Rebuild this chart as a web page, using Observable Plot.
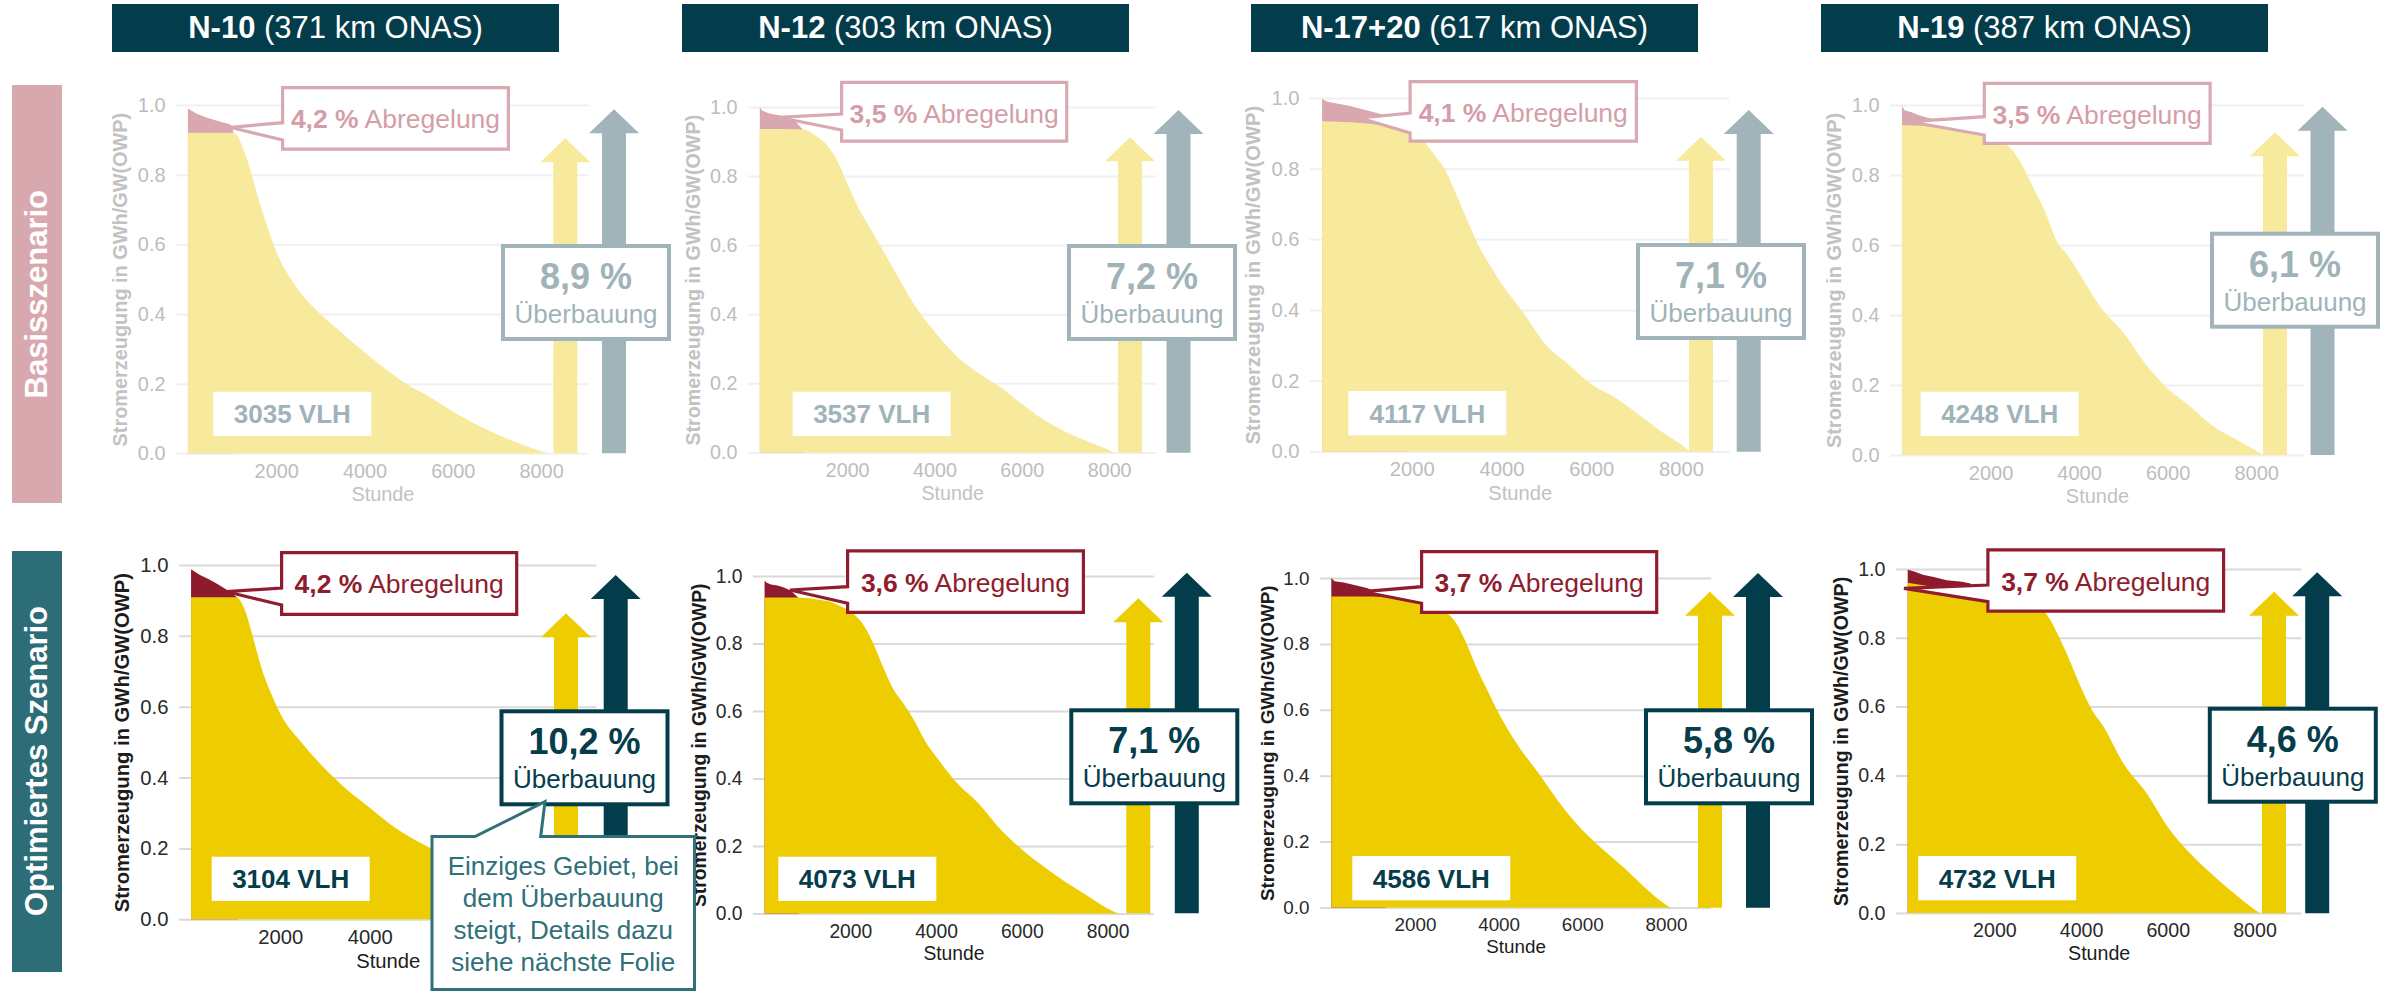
<!DOCTYPE html>
<html><head><meta charset="utf-8">
<script src="https://cdn.jsdelivr.net/npm/d3@7"></script>
<script src="https://cdn.jsdelivr.net/npm/@observablehq/plot@0.6"></script>
<style>
body{margin:0;background:#fff;}
#root{position:relative;width:2387px;height:991px;overflow:hidden;background:#fff;font-family:"Liberation Sans",Arial,sans-serif;}
.hdr{position:absolute;background:#033d4b;color:#fff;text-align:center;font-size:31px;}
.row{position:absolute;color:#fff;font-weight:bold;font-size:31px;display:flex;align-items:center;justify-content:center;}
.row span{writing-mode:vertical-rl;transform:rotate(180deg);white-space:nowrap;}
</style></head><body><div id="root"></div>
<script>
// ---------- texts ----------
const regions = ["N-10", "N-12", "N-17+20", "N-19"];
const onasKm = [371, 303, 617, 387];
const rowLabels = ["Basisszenario", "Optimiertes Szenario"];
const xTitle = "Stunde";
const yTitle = "Stromerzeugung in GWh/GW(OWP)";
const xTicks = [2000, 4000, 6000, 8000];
const yTicks = [0, 0.2, 0.4, 0.6, 0.8, 1.0];
const vlhBasis = [3035, 3537, 4117, 4248];
const vlhOpt = [3104, 4073, 4586, 4732];
const abregBasis = ["4,2", "3,5", "4,1", "3,5"];
const abregOpt = ["4,2", "3,6", "3,7", "3,7"];
const ueberBasis = ["8,9", "7,2", "7,1", "6,1"];
const ueberOpt = ["10,2", "7,1", "5,8", "4,6"];
const noteLines = ["Einziges Gebiet, bei", "dem Überbauung", "steigt, Details dazu", "siehe nächste Folie"];

// ---------- duration curves (hour rank -> GWh/GW) ----------
// Basisszenario
const hN10B = [0,1000,1100,1200,1400,1600,1800,2000,2500,3000,3500,4000,4500,5000,5500,6000,6500,7000,7500,8000,8150];
const gN10B = [0.92,0.92,0.915,0.89,0.82,0.73,0.65,0.58,0.47,0.40,0.345,0.29,0.24,0.195,0.16,0.12,0.085,0.055,0.028,0.006,0];
const rhN10B = [0,200,400,600,800,950,1000,1040];
const rN10B = [0.99,0.975,0.965,0.957,0.95,0.945,0.94,0.915];

const hN12B = [0,1000,1250,1500,1750,2000,2250,2500,2750,3000,3250,3500,3750,4000,4500,5000,5500,6000,6500,7000,7500,8000,8100];
const gN12B = [0.936,0.935,0.92,0.895,0.85,0.78,0.71,0.655,0.60,0.545,0.49,0.435,0.39,0.35,0.28,0.23,0.19,0.14,0.095,0.06,0.032,0.006,0];
const rhN12B = [0,50,200,400,600,800,1000];
const rN12B = [1.0,0.99,0.982,0.977,0.972,0.96,0.933];

const hN17B = [0,500,1000,1500,2000,2250,2500,2750,3000,3250,3500,3750,4000,4500,5000,5500,6000,6500,7000,7500,8000,8200];
const gN17B = [0.934,0.932,0.928,0.92,0.905,0.88,0.84,0.795,0.725,0.65,0.58,0.525,0.475,0.39,0.30,0.245,0.19,0.155,0.11,0.062,0.02,0];
const rhN17B = [0,100,300,600,900,1200,1500,1750,1900];
const rN17B = [0.998,0.99,0.985,0.978,0.968,0.958,0.948,0.925,0.905];

const hN19B = [0,500,1000,1500,2000,2250,2500,2750,3000,3250,3500,3750,4000,4500,5000,5500,6000,6500,7000,7500,8000,8150];
const gN19B = [0.943,0.94,0.933,0.923,0.91,0.895,0.87,0.82,0.755,0.69,0.61,0.57,0.52,0.42,0.35,0.26,0.19,0.14,0.085,0.048,0.012,0];
const rhN19B = [0,60,200,400,600,900,1100];
const rN19B = [0.997,0.985,0.98,0.97,0.963,0.955,0.93];

// Optimiertes Szenario
const hN10O = [0,1000,1100,1200,1400,1600,1800,2000,2500,3000,3500,4000,4500,5000,5500,6000,6500,7000,7500,8000,8150];
const gN10O = [0.909,0.909,0.9,0.875,0.79,0.70,0.635,0.58,0.495,0.425,0.365,0.315,0.265,0.225,0.19,0.14,0.10,0.065,0.035,0.008,0];
const rhN10O = [0,200,400,600,800,1000,1050];
const rN10O = [0.988,0.972,0.96,0.946,0.93,0.912,0.905];

const hN12O = [0,500,1000,1250,1500,1750,2000,2250,2500,2750,3000,3250,3500,3750,4000,4500,5000,5500,6000,6500,7000,7500,8000,8250];
const gN12O = [0.936,0.936,0.935,0.93,0.925,0.912,0.895,0.865,0.81,0.735,0.665,0.62,0.57,0.51,0.465,0.385,0.325,0.25,0.19,0.14,0.095,0.055,0.015,0];
const rhN12O = [0,50,150,300,450,600,800];
const rN12O = [0.987,0.98,0.975,0.972,0.966,0.958,0.934];

const hN17O = [0,1000,1500,2000,2500,2750,3000,3250,3500,3750,4000,4500,5000,5500,6000,6500,7000,7500,8000,8100];
const gN17O = [0.944,0.944,0.937,0.926,0.908,0.895,0.86,0.795,0.72,0.655,0.59,0.485,0.40,0.31,0.235,0.175,0.12,0.06,0.008,0];
const rhN17O = [0,80,300,550,850,1150,1300];
const rN17O = [1.0,0.99,0.986,0.979,0.97,0.955,0.94];

const hN19O = [0,500,1000,1500,2000,2500,3000,3250,3500,3750,4000,4250,4500,5000,5500,6000,6500,7000,7500,8000,8120];
const gN19O = [0.96,0.95,0.94,0.93,0.92,0.905,0.89,0.86,0.80,0.73,0.655,0.59,0.545,0.43,0.35,0.25,0.175,0.115,0.06,0.01,0];
const rhN19O = [0,150,350,600,900,1250,1450,1550];
const rN19O = [0.998,0.993,0.983,0.977,0.967,0.963,0.958,0.928];

const curves = [
  [hN10B, gN10B, rhN10B, rN10B], [hN12B, gN12B, rhN12B, rN12B], [hN17B, gN17B, rhN17B, rN17B], [hN19B, gN19B, rhN19B, rN19B],
  [hN10O, gN10O, rhN10O, rN10O], [hN12O, gN12O, rhN12O, rN12O], [hN17O, gN17O, rhN17O, rN17O], [hN19O, gN19O, rhN19O, rN19O]
];

// ---------- layout (page pixels) ----------
const xDomain = [-270, 9080];
// hour-0 x, px per 1000 h, y of 0, y of 1
const panelLayout = [
  [187.7, 44.15, 453.3, 105], [759.9, 43.67, 452.7, 107.3], [1321.7, 44.85, 451.7, 98.3], [1901.5, 44.28, 455, 105],
  [190.7, 44.65, 919.3, 565], [765, 42.88, 913.3, 575.7], [1331.3, 41.83, 907.7, 578.3], [1908.2, 43.35, 913.3, 569.3]
];
const noteBox = [432, 836.5, 694.5, 989.5]; // left, top, right, bottom of the note callout
const headerLeft = [112, 682, 1251, 1821];
const arrowYellowPos = [[565.3,138.3],[1130,137.3],[1701,136.7],[2275,132.3],[566,613.3],[1138.3,598.3],[1710,591.7],[2274,591.7]];
const arrowDarkPos = [[614,109.3],[1178.5,110],[1748.7,110],[2322.5,106.7],[615.7,575],[1186.8,572.7],[1758,573],[2317.2,572.3]];
const abregPos = [
  [281,86,510,150.7,230,127.3,122.7,140], [840,80.7,1068.3,142.7,778.3,117.3,114,130],
  [1408.5,80,1638,142.7,1360,118,113,133], [1982.7,81.7,2211.7,145,1910,121.7,116.7,135],
  [280,551,518.3,616,226.7,591.7,588,605], [846,549.3,1085,614,790,590,586.7,603.3],
  [1420,550,1658.3,614,1363,591.7,586.7,603.3], [1986.3,548.3,2225.2,612.7,1904,588.3,585,601.7]
];
const vlhPos = [[213.3,391.7],[792.7,391.7],[1348.4,391],[1920.7,391.7],[211.7,856.7],[778.3,856.7],[1352.3,856],[1918.2,856]];
const ueberPos = [[501,244],[1067,244],[1636,243],[2210,231.7],[499.5,709.3],[1069.3,708.3],[1644,708.3],[2207.8,706.7]];

// ---------- colours ----------
const theme = {
  basis: {yellow:"#f8ea9c", red:"#d8a7af", grid:"#f0f0f0", tick:"#bdbdbd", title:"#c2c2c2", arrow:"#a1b4ba",
          boxText:"#9fb3b9", abBorder:"#d9a9b1", abText:"#d49ea8"},
  opt:   {yellow:"#edcd00", red:"#8e1b2d", grid:"#dadada", tick:"#2a2a2a", title:"#1c1c1c", arrow:"#033d4b",
          boxText:"#053d4b", abBorder:"#8f1d2e", abText:"#8f1d2e"}
};
const FONT = '"Liberation Sans", Arial, sans-serif';

const root = document.getElementById("root");

// headers
regions.forEach((r, i) => {
  const d = document.createElement("div");
  d.className = "hdr";
  Object.assign(d.style, {left: headerLeft[i] + "px", top: "4px", width: "447px", height: "48px", lineHeight: "48px"});
  d.innerHTML = `<b>${r}</b> (${onasKm[i]} km ONAS)`;
  root.appendChild(d);
});
// row labels
[[85, 418, "#d8a8af"], [551, 421, "#2d6d77"]].forEach(([top, h, bg], i) => {
  const d = document.createElement("div");
  d.className = "row";
  Object.assign(d.style, {left: "12px", top: top + "px", width: "50px", height: h + "px", background: bg});
  d.innerHTML = `<span>${rowLabels[i]}</span>`;
  root.appendChild(d);
});

// panels
curves.forEach(([hs, gs, rhs, rs], i) => {
  const [px0, kx, py0, py1] = panelLayout[i];
  const t = i < 4 ? theme.basis : theme.opt;
  const span = py0 - py1;
  const fw = (xDomain[1] - xDomain[0]) * kx / 1000;
  const frameLeft = px0 + xDomain[0] * kx / 1000;
  const mL = 100, mR = 5, mT = 10, mB = 60;
  const fs = 20 * span / 350;
  const gen = hs.map((h, j) => ({h, v: gs[j]}));
  const red = rhs.map((h, j) => ({h, v: rs[j]}));
  // tick labels that sit under the note callout are hidden there in the original
  const belowNote = py0 > noteBox[1] - 20;
  const ticksShown = xTicks.filter(h => {
    const px = px0 + h * kx / 1000;
    return !(belowNote && px + 30 > noteBox[0] && px - 30 < noteBox[2]);
  });
  const chart = Plot.plot({
    width: mL + fw + mR, height: mT + span + mB,
    marginLeft: mL, marginRight: mR, marginTop: mT, marginBottom: mB,
    x: {domain: xDomain}, y: {domain: [0, 1]},
    style: {fontFamily: FONT, fontSize: fs + "px", color: t.tick, background: "transparent", overflow: "visible", maxWidth: "none"},
    marks: [
      Plot.gridY(yTicks, {stroke: t.grid, strokeWidth: 2, strokeOpacity: 1}),
      Plot.areaY(red, {x: "h", y: "v", fill: t.red}),
      Plot.areaY(gen, {x: "h", y: "v", fill: t.yellow, curve: "monotone-x"}),
      Plot.axisX(ticksShown, {tickSize: 0, tickPadding: 10, tickFormat: d => String(d), label: null, fontSize: fs}),
      Plot.axisY(yTicks, {tickSize: 0, tickPadding: 11, tickFormat: d3.format(".1f"), label: null, fontSize: fs}),
      Plot.text([xTitle], {text: d => d, frameAnchor: "bottom", lineAnchor: "middle", dy: 0.1175 * span, fontSize: fs, fill: t.title}),
      Plot.text([yTitle], {text: d => d, frameAnchor: "left", textAnchor: "middle", lineAnchor: "middle", rotate: -90, dx: -0.16 * span,
                           fontSize: fs, fontWeight: "bold", fill: t.title})
    ]
  });
  chart.style.display = "block";
  const w = document.createElement("div");
  Object.assign(w.style, {position: "absolute", left: (frameLeft - mL) + "px", top: (py1 - mT) + "px"});
  w.appendChild(chart);
  root.appendChild(w);
});

// overlay annotations
const svg = d3.select(root).append("svg").attr("width", 2387).attr("height", 991)
  .style("position", "absolute").style("left", 0).style("top", 0).style("font-family", FONT);

function arrow(cx, tip, bottom, color) {
  svg.append("path").attr("fill", color)
    .attr("d", `M${cx-12},${bottom}V${tip+24}H${cx-25}L${cx},${tip}L${cx+25},${tip+24}H${cx+12}V${bottom}Z`);
}
panelLayout.forEach(([px0, kx, py0], i) => {
  const t = i < 4 ? theme.basis : theme.opt;
  arrow(arrowYellowPos[i][0], arrowYellowPos[i][1], py0, t.yellow);
  arrow(arrowDarkPos[i][0], arrowDarkPos[i][1], py0, t.arrow);
});

panelLayout.forEach((_, i) => {
  const basis = i < 4;
  const t = basis ? theme.basis : theme.opt;
  const k = i % 4;
  // Abregelung callout
  const [l, tp, r, b, tx, ty, bt, bb] = abregPos[i];
  svg.append("path").attr("fill", "#fff").attr("stroke", t.abBorder).attr("stroke-width", 3.2).attr("stroke-linejoin", "miter")
    .attr("d", `M${l+1.6},${tp+1.6}H${r-1.6}V${b-1.6}H${l+1.6}V${bb}L${tx},${ty}L${l+1.6},${bt}Z`);
  const at = svg.append("text").attr("x", (l + r) / 2).attr("y", tp + 42.3).attr("text-anchor", "middle")
    .attr("font-size", 26.5).attr("fill", t.abText);
  at.append("tspan").attr("font-weight", "bold").text(`${(basis ? abregBasis : abregOpt)[k]} %`);
  at.append("tspan").text(" Abregelung");
  // VLH box
  const [vx, vy] = vlhPos[i];
  svg.append("rect").attr("x", vx).attr("y", vy).attr("width", 158).attr("height", 44.3).attr("fill", "#fff");
  svg.append("text").attr("x", vx + 79).attr("y", vy + 31.6).attr("text-anchor", "middle").attr("font-size", 26)
    .attr("font-weight", "bold").attr("fill", t.boxText).text(`${(basis ? vlhBasis : vlhOpt)[k]} VLH`);
  // Überbauung box
  const [ux, uy] = ueberPos[i];
  svg.append("rect").attr("x", ux + 2).attr("y", uy + 2).attr("width", 166).attr("height", 93)
    .attr("fill", "#fff").attr("stroke", t.arrow).attr("stroke-width", 4);
  svg.append("text").attr("x", ux + 85).attr("y", uy + 45).attr("text-anchor", "middle").attr("font-size", 36)
    .attr("font-weight", "bold").attr("fill", t.boxText).text(`${(basis ? ueberBasis : ueberOpt)[k]} %`);
  svg.append("text").attr("x", ux + 85).attr("y", uy + 79).attr("text-anchor", "middle").attr("font-size", 26)
    .attr("fill", t.boxText).text("Überbauung");
});

// note callout
const [nl, nt, nr, nb] = noteBox;
svg.append("path").attr("fill", "#fff").attr("stroke", "#2f7079").attr("stroke-width", 3)
  .attr("d", `M${nl},${nt}H475L545,801.7L540.7,${nt}H${nr}V${nb}H${nl}Z`);
noteLines.forEach((s, j) => {
  svg.append("text").attr("x", (nl + nr) / 2).attr("y", 875 + 32 * j).attr("text-anchor", "middle")
    .attr("font-size", 26).attr("fill", "#2f7079").text(s);
});
</script></body></html>
